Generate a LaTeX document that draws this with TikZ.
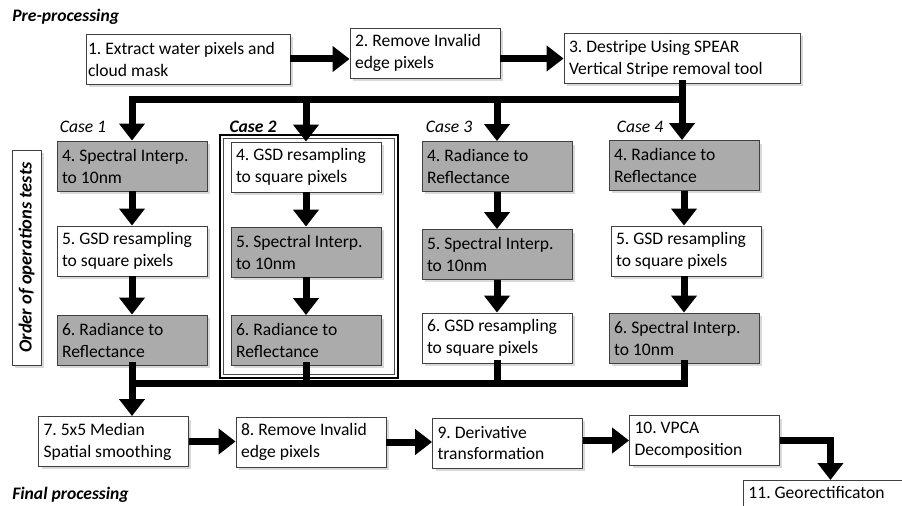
\documentclass[tikz,border=0pt]{standalone}
\usepackage{fontspec}
\setmainfont{Carlito}
\frenchspacing
\usetikzlibrary{arrows.meta,shadows}

\tikzset{
    stepbox/.style = {shape = rectangle, draw = black!75, line width = 0.5pt, fill = white,
        minimum width = 3cm, minimum height = 1cm, text width = 2.8cm, inner xsep = 0.1cm,
        align = flush left, font = \fontsize{10}{12.5}\selectfont,
        drop shadow = {shadow xshift = 0.06cm, shadow yshift = -0.06cm, opacity = 0.3}},
    greybox/.style = {stepbox, fill = black!33},
    caselabel/.style = {font = \fontsize{10}{12}\selectfont\itshape},
    headlabel/.style = {inner sep = 0pt, font = \fontsize{10}{12}\selectfont\bfseries\itshape},
    flow/.style = {line width = 0.14cm, -{Triangle[length = 0.34cm, width = 0.5cm]}},
    bus/.style = {line width = 0.14cm, line cap = rect}
}

\begin{document}
\begin{tikzpicture}[x = 0.02cm, y = -0.02cm]
    \useasboundingbox (0,0) rectangle (902,506);

    % pre-processing
    \node[headlabel, anchor = west] (pre) at (12,17) {Pre-processing};
    \node[stepbox, minimum width = 4.08cm, text width = 4.0cm, inner xsep = 0.04cm] (n1) at (188,59) {1. Extract water pixels and\\cloud mask};
    \node[stepbox] (n2) at (425,53) {2. Remove Invalid\\edge pixels};
    \node[stepbox, minimum width = 4.72cm, text width = 4.52cm] (n3) at (682,58.5) {3. Destripe Using SPEAR\\Vertical Stripe removal tool};
    \draw[flow] (n1.east) -- (n1.east -| n2.west);
    \draw[flow] (n2.east |- n3.west) -- (n3.west);

    % order of operations tests
    \node[draw = black!75, line width = 0.5pt, fill = white, minimum width = 4.3cm, minimum height = 0.58cm,
        rotate = 90, font = \fontsize{10.5}{12}\selectfont\bfseries\itshape,
        drop shadow = {shadow xshift = 0.06cm, shadow yshift = -0.06cm, opacity = 0.3}] (order) at (26.5,257.5) {Order of operations tests};
    \draw[line width = 1.1pt] (220,135) rectangle (398,378);
    \draw[line width = 0.4pt, black!70] (223.5,138.5) rectangle (394.5,374.5);

    \node[caselabel] (case1) at (83,127) {Case 1};
    \node[caselabel, font = \fontsize{10}{12}\selectfont\bfseries\itshape] (case2) at (253,127) {Case 2};
    \node[caselabel] (case3) at (449,127) {Case 3};
    \node[caselabel] (case4) at (640,127) {Case 4};

    \node[greybox] (c1a) at (132,166) {4. Spectral Interp.\\to 10nm};
    \node[stepbox] (c1b) at (132,251) {5. GSD resampling\\to square pixels};
    \node[greybox] (c1c) at (132,340) {6. Radiance to\\Reflectance};

    \node[stepbox] (c2a) at (306,167) {4. GSD resampling\\to square pixels};
    \node[greybox] (c2b) at (306,252) {5. Spectral Interp.\\to 10nm};
    \node[greybox] (c2c) at (306,340.5) {6. Radiance to\\Reflectance};

    \node[greybox] (c3a) at (497,166.5) {4. Radiance to\\Reflectance};
    \node[greybox] (c3b) at (497,254.5) {5. Spectral Interp.\\to 10nm};
    \node[stepbox] (c3c) at (497,338) {6. GSD resampling\\to square pixels};

    \node[greybox] (c4a) at (684,165.5) {4. Radiance to\\Reflectance};
    \node[stepbox] (c4b) at (686,251) {5. GSD resampling\\to square pixels};
    \node[greybox] (c4c) at (684,338) {6. Spectral Interp.\\to 10nm};

    % split into the four cases
    \coordinate (split) at (682,100);
    \draw[bus] (n3.south) -- (split) -- (split -| c1a.north);
    \draw[flow] (split -| c1a.north) -- (c1a.north);
    \draw[flow] (split -| c2a.north) -- (c2a.north);
    \draw[flow] (split -| c3a.north) -- (c3a.north);
    \draw[flow] (split) -- (split |- c4a.north);

    \draw[flow] (c1a) -- (c1b);
    \draw[flow] (c1b) -- (c1c);
    \draw[flow] (c2a) -- (c2b);
    \draw[flow] (c2b) -- (c2c);
    \draw[flow] (c3a) -- (c3b);
    \draw[flow] (c3b) -- (c3c);
    \draw[flow] (c4a) -- (c4a |- c4b.north);
    \draw[flow] (c4a |- c4b.south) -- (c4c);

    % merge
    \coordinate (merge) at (682,383);
    \draw[bus] (c1c.south) -- (c1c.south |- merge) -- (c4c.south |- merge) -- (c4c.south);
    \draw[bus] (c2c.south) -- (c2c.south |- merge);
    \draw[bus] (c3c.south) -- (c3c.south |- merge);

    % final processing
    \node[stepbox] (n7) at (113.5,441.5) {7. 5x5 Median\\Spatial smoothing};
    \node[stepbox] (n8) at (311,442) {8. Remove Invalid\\edge pixels};
    \node[stepbox] (n9) at (507.5,443) {9. Derivative\\transformation};
    \node[stepbox] (n10) at (704.5,440.5) {10. VPCA\\Decomposition};
    \node[stepbox, minimum width = 3.48cm, text width = 3.28cm, anchor = north west] (n11) at (743,480) {11. Georectificaton\\ \strut};
    \node[headlabel, anchor = west] (final) at (12,495) {Final processing};

    \draw[flow] (c1c.south |- merge) -- (n7.north -| c1c.south);
    \draw[flow] (n7.east) -- (n7.east -| n8.west);
    \draw[flow] (n8.east) -- (n8.east -| n9.west);
    \draw[flow] (n9.east |- n10.west) -- (n10.west);
    \draw[flow] (n10.east) -| (n11.north);
\end{tikzpicture}
\end{document}
